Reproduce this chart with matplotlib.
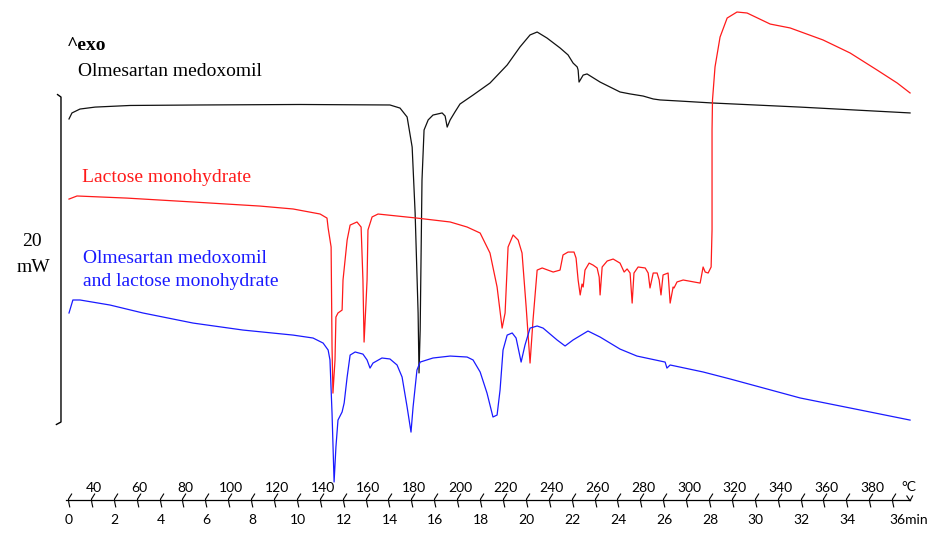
import numpy as np
import matplotlib
matplotlib.use("Agg")
import matplotlib.pyplot as plt
from matplotlib.path import Path

# DSC thermograms: time (min) vs heat flow (mW, curves offset for display)
om_t = [0.0, 0.13, 0.48, 1.14, 2.67, 5.72, 10.09, 14.02, 14.46, 14.77, 14.99, 15.12,
        15.25, 15.29, 15.34, 15.42, 15.51, 15.69, 15.90, 16.30, 16.43, 16.52, 16.65,
        16.86, 17.08, 17.65, 18.39, 19.14, 19.70, 20.14, 20.45, 20.88, 21.45, 21.80,
        22.02, 22.20, 22.24, 22.28, 22.46, 22.63, 23.20, 24.07, 24.51, 25.08, 25.52,
        25.82, 26.70, 28.14, 31.94, 36.74]
om_mw = [23.45, 23.82, 24.06, 24.18, 24.28, 24.31, 24.34, 24.31, 24.12, 23.57, 21.72,
         17.66, 11.51, 7.82, 10.46, 19.69, 22.77, 23.39, 23.69, 23.82, 23.63, 22.95,
         23.39, 23.88, 24.37, 24.92, 25.66, 26.77, 27.88, 28.62, 28.80, 28.43, 27.82,
         27.39, 26.89, 26.65, 26.46, 25.72, 26.15, 26.22, 25.72, 25.11, 24.99, 24.86,
         24.68, 24.62, 24.55, 24.43, 24.18, 23.82]

lac_t = [0.0, 0.35, 2.53, 5.42, 8.34, 9.79, 10.97, 11.27, 11.32, 11.45, 11.49, 11.53,
         11.62, 11.66, 11.75, 11.93, 11.97, 12.15, 12.28, 12.58, 12.76, 12.84, 12.89,
         12.98, 13.02, 13.06, 13.24, 13.50, 15.20, 16.65, 17.39, 17.96, 18.39, 18.70,
         18.92, 19.05, 19.18, 19.40, 19.62, 19.79, 19.97, 20.14, 20.27, 20.45, 20.67,
         21.15, 21.45, 21.58, 21.80, 22.06, 22.15, 22.24, 22.33, 22.41, 22.46, 22.54,
         22.72, 22.89, 23.07, 23.16, 23.20, 23.29, 23.51, 23.77, 24.07, 24.25, 24.38,
         24.51, 24.60, 24.68, 24.86, 25.17, 25.30, 25.38, 25.52, 25.69, 25.78, 25.86,
         25.95, 26.17, 26.26, 26.39, 26.43, 26.56, 26.83, 27.57, 27.70, 27.79, 27.92,
         28.05, 28.09, 28.09, 28.11, 28.22, 28.44, 28.75, 29.18, 29.62, 30.63, 31.50,
         32.94, 34.12, 35.30, 36.18, 36.74]
lac_mw = [18.52, 18.71, 18.58, 18.34, 18.09, 17.91, 17.60, 17.35, 16.74, 15.57, 9.42,
          6.58, 8.62, 11.26, 11.51, 11.69, 13.54, 16.00, 16.92, 17.11, 16.80, 13.54,
          9.72, 12.31, 13.54, 16.62, 17.42, 17.60, 17.35, 17.11, 16.80, 16.43, 15.20,
          13.11, 10.58, 11.51, 15.57, 16.31, 16.00, 15.20, 11.88, 8.43, 11.08, 14.15,
          14.28, 14.03, 14.15, 15.08, 15.26, 15.26, 14.89, 13.54, 12.62, 13.29, 13.11,
          14.15, 14.58, 14.46, 14.28, 13.72, 12.62, 14.34, 14.71, 14.83, 14.58, 14.03,
          14.22, 13.97, 12.12, 13.97, 14.34, 14.28, 13.97, 13.05, 13.97, 13.97, 13.54,
          12.62, 13.85, 13.97, 12.12, 13.11, 13.05, 13.42, 13.54, 13.35, 14.34, 14.03,
          13.97, 14.34, 16.62, 22.77, 24.62, 26.65, 28.49, 29.66, 30.03, 29.97, 29.29,
          29.05, 28.31, 27.51, 26.46, 25.66, 25.05]

mix_t = [0.0, 0.17, 0.48, 1.79, 3.23, 5.42, 7.60, 9.79, 10.66, 11.10, 11.32, 11.40,
         11.49, 11.58, 11.66, 11.75, 11.93, 12.02, 12.15, 12.28, 12.50, 12.84, 13.02,
         13.15, 13.28, 13.67, 14.02, 14.33, 14.55, 14.77, 14.94, 15.03, 15.20, 15.34,
         15.90, 16.65, 17.39, 17.65, 17.96, 18.26, 18.52, 18.70, 18.83, 18.96, 19.14,
         19.36, 19.53, 19.75, 19.92, 20.14, 20.45, 20.71, 21.32, 21.67, 22.02, 22.67,
         23.20, 24.07, 24.81, 26.04, 26.12, 26.26, 27.70, 28.88, 31.94, 34.56, 36.74]
mix_mw = [11.51, 12.31, 12.31, 12.00, 11.51, 10.89, 10.46, 10.15, 9.97, 9.66, 9.23,
          8.62, 5.35, 1.11, 3.26, 4.92, 5.42, 5.97, 7.57, 8.92, 9.11, 8.98, 8.62, 8.12,
          8.43, 8.74, 8.68, 8.31, 7.57, 5.72, 4.18, 5.72, 8.00, 8.49, 8.74, 8.86, 8.80,
          8.62, 7.88, 6.58, 5.11, 5.23, 6.77, 9.23, 10.15, 10.28, 9.97, 8.49, 9.54,
          10.58, 10.71, 10.58, 9.85, 9.48, 9.85, 10.40, 10.03, 9.29, 8.86, 8.49, 8.12,
          8.31, 7.88, 7.45, 6.28, 5.54, 4.92]

min_labels = list(range(0, 36, 2))
temp_labels = list(range(40, 400, 20))

serif = ["Liberation Serif", "DejaVu Serif"]
sans = ["Lato", "DejaVu Sans"]

fig = plt.figure(figsize=(9.27, 5.34), dpi=100)
ax = fig.add_axes([0, 0, 1, 1])
ax.set_xlim(-3.014, 37.48)
ax.set_ylim(-2.09, 30.77)
ax.axis("off")

ax.plot(om_t, om_mw, color="#111111", lw=0.9)
ax.plot(lac_t, lac_mw, color="#ff1a1a", lw=0.9)
ax.plot(mix_t, mix_mw, color="#1a1aff", lw=0.9)

# 20 mW scale bar
ax.plot([-0.50, -0.35, -0.35, -0.55], [24.95, 24.8, 4.8, 4.65], color="black", lw=1.0)
ax.text(-1.62, 15.88, "20", ha="center", va="center", fontsize=14, family=serif)
ax.text(-1.55, 14.28, "mW", ha="center", va="center", fontsize=14, family=serif)

# labels
ax.text(-0.09, 28.0, "^exo", ha="left", va="center", fontsize=14, fontweight="bold", family=serif)
ax.text(0.40, 26.35, "Olmesartan medoxomil", ha="left", va="center", fontsize=14, family=serif)
ax.text(0.57, 19.82, "Lactose monohydrate", ha="left", va="center", fontsize=14,
        family=serif, color="#ff1a1a")
ax.text(0.61, 14.89, "Olmesartan medoxomil", ha="left", va="center", fontsize=14,
        family=serif, color="#1a1aff")
ax.text(0.61, 13.42, "and lactose monohydrate", ha="left", va="center", fontsize=14,
        family=serif, color="#1a1aff")

# time / temperature axis
ax.plot([-0.13, 36.74], [0, 0], color="black", lw=0.9)
tick = Path([(0.35, 1.0), (-0.15, 0.2), (-0.1, -0.3), (0.05, -1.0)])
ax.plot(np.arange(0, 37), np.zeros(37), ls="none", marker=tick, ms=10,
        mfc="none", mec="black", mew=0.8)
ax.plot([36.6, 36.74, 36.85], [0.25, -0.05, 0.25], color="black", lw=0.8)
for m in min_labels:
    ax.text(m, -1.25, str(m), ha="center", va="center", fontsize=10, family=sans)
ax.text(35.85, -1.25, "36min", ha="left", va="center", fontsize=10, family=sans)
for T in temp_labels:
    ax.text((T - 30) / 10 + 0.08, 0.75, str(T), ha="center", va="center",
            fontsize=10, family=sans)
ax.text(36.7, 0.8, "°C", ha="center", va="center", fontsize=10, family=sans)

fig.savefig("out.png", dpi=100)
